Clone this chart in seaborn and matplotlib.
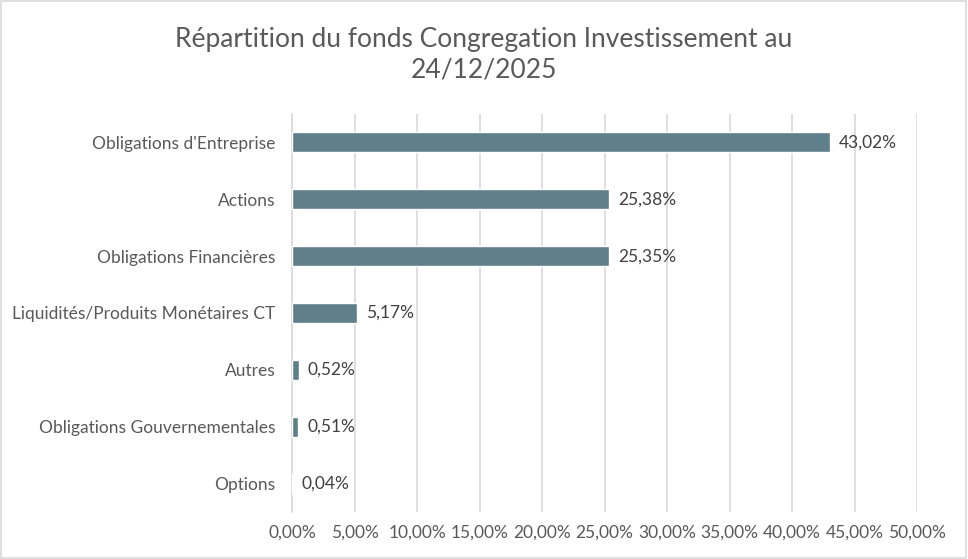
import matplotlib
matplotlib.use("Agg")
import matplotlib.pyplot as plt
import seaborn as sns
import pandas as pd

categories = ["Obligations d'Entreprise", "Actions", "Obligations Financières",
              "Liquidités/Produits Monétaires CT", "Autres",
              "Obligations Gouvernementales", "Options"]
values = [43.02, 25.38, 25.35, 5.17, 0.52, 0.51, 0.04]
xticks = [0, 5, 10, 15, 20, 25, 30, 35, 40, 45, 50]
title = "Répartition du fonds Congregation Investissement au\n24/12/2025"

sns.set_theme(style="white")
plt.rcParams['font.family'] = ['Lato', 'DejaVu Sans']

df = pd.DataFrame({"cat": categories, "val": values})

fig = plt.figure(figsize=(9.68, 5.59), dpi=100)
ax = fig.add_axes([292/968, 1-512/559, (917-292)/968, (512-114)/559])
sns.barplot(data=df, y="cat", x="val", color="#5F7F8A", saturation=1,
            width=0.35, ax=ax, orient="h", zorder=3)

ax.set_xlim(0, 50)
ax.set_xticks(xticks)
ax.set_xticklabels([f"{t:.2f}%".replace(".", ",") for t in xticks])
ax.xaxis.grid(True, color="#D9D9D9", linewidth=1.2, zorder=0)
ax.set_axisbelow(True)
ax.tick_params(axis="both", length=0, labelsize=12.5, colors="#595959")
ax.tick_params(axis="x", pad=9)
ax.tick_params(axis="y", pad=12)
ax.set_xlabel("")
ax.set_ylabel("")
for s in ["top", "right", "bottom"]:
    ax.spines[s].set_visible(False)
ax.spines["left"].set_color("#D9D9D9")
ax.spines["left"].set_linewidth(1.2)

for i, v in enumerate(values):
    ax.text(v + 0.75, i, f"{v:.2f}%".replace(".", ","), va="center", ha="left",
            fontsize=12.5, color="#404040")

fig.text(0.5, 1-55/559, title, ha="center", va="center", fontsize=19,
         color="#595959", linespacing=1.25)

fig.patches.append(plt.Rectangle((0.001, 0.001), 0.997, 0.997, transform=fig.transFigure,
                                 fill=False, edgecolor="#D9D9D9", linewidth=1.2))
fig.savefig("out.png", dpi=100, facecolor="white")
